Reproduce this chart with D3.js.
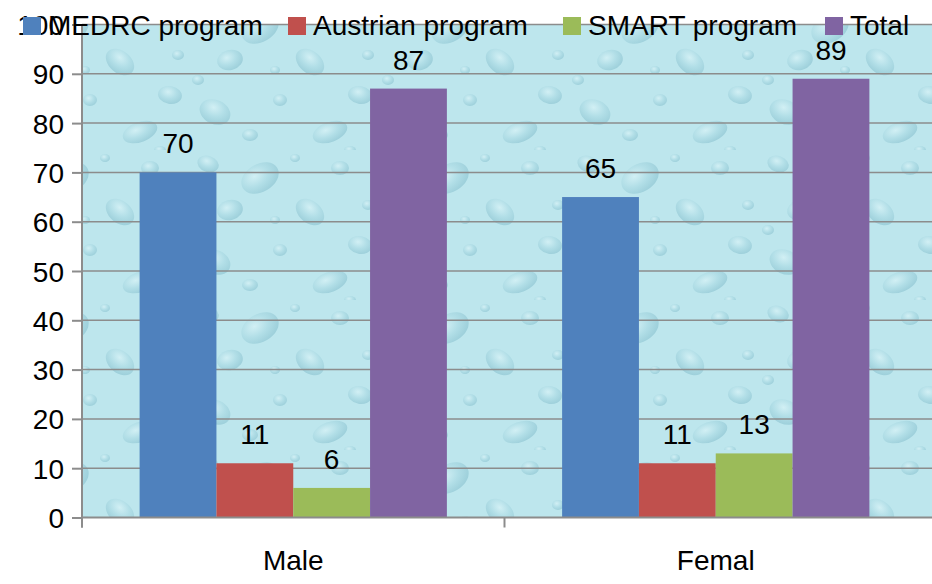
<html>
  <head>
    <meta charset="utf-8" />
    <script src="https://cdnjs.cloudflare.com/ajax/libs/d3/7.6.1/d3.min.js"></script>
    <style>
      body { margin: 0; background: #fff; }
      svg { display: block; font-family: "Liberation Sans", Arial, sans-serif; }
    </style>
  </head>
  <body>
    <svg width="932" height="584"></svg>
  </body>
  <script>
    const categories = ["Male", "Femal"];
    const series = ["MEDRC program", "Austrian program", "SMART program", "Total"];
    const colors = ["#4f81bd", "#c0504d", "#9bbb59", "#8064a2"];
    const medrc = [70, 65];
    const austrian = [11, 11];
    const smart = [6, 13];
    const total = [87, 89];
    const yTicks = [0, 10, 20, 30, 40, 50, 60, 70, 80, 90, 100];

    const values = [medrc, austrian, smart, total];
    const rows = [];
    categories.forEach((c, i) => {
      series.forEach((s, j) => rows.push({ cat: c, ser: s, val: values[j][i], col: colors[j] }));
    });

    const svg = d3.select("svg");
    const plotL = 82, plotR = 927, plotT = 24.5, plotB = 517.5;

    const x0 = d3.scaleBand().domain(categories).range([plotL, plotR]);
    const x1 = d3.scaleBand().domain(series).range([0, x0.bandwidth()]).paddingOuter(0.75);
    const y = d3.scaleLinear().domain([0, 100]).range([plotB, plotT]);

    // water-drop texture for the plot area
    const defs = svg.append("defs");
    const grad = defs.append("radialGradient").attr("id", "drop")
      .attr("cx", "40%").attr("cy", "35%").attr("r", "65%");
    grad.append("stop").attr("offset", "0%").attr("stop-color", "#e2f7fa");
    grad.append("stop").attr("offset", "55%").attr("stop-color", "#a8d8e2");
    grad.append("stop").attr("offset", "100%").attr("stop-color", "#86bfcd");
    const pat = defs.append("pattern").attr("id", "water")
      .attr("patternUnits", "userSpaceOnUse").attr("width", 190).attr("height", 150);
    pat.append("rect").attr("width", 190).attr("height", 150).attr("fill", "#bde6ed");
    [[18, 14, 11, 8, 20], [70, 28, 20, 14, -30], [150, 18, 9, 7, 0], [120, 62, 16, 11, 40],
     [40, 60, 13, 10, -15], [170, 95, 12, 9, 10], [90, 100, 7, 6, 0], [25, 112, 16, 12, 25],
     [60, 135, 8, 6, 0], [140, 132, 18, 10, -20], [105, 8, 5, 4, 0], [178, 55, 6, 5, 0],
     [8, 80, 6, 5, 0], [85, 70, 5, 4, 0], [160, 150, 6, 4, 0]]
      .forEach(([cx, cy, rx, ry, a]) => {
        pat.append("ellipse").attr("cx", cx).attr("cy", cy).attr("rx", rx).attr("ry", ry)
          .attr("transform", `rotate(${a},${cx},${cy})`)
          .attr("fill", "url(#drop)").attr("opacity", 0.55);
      });

    svg.append("rect")
      .attr("x", plotL).attr("y", plotT)
      .attr("width", 932 - plotL).attr("height", plotB - plotT)
      .attr("fill", "url(#water)");

    // gridlines
    svg.append("g")
      .selectAll("line")
      .data(yTicks.slice(1))
      .enter()
      .append("line")
      .attr("x1", plotL).attr("x2", 932)
      .attr("y1", (d) => y(d)).attr("y2", (d) => y(d))
      .attr("stroke", "#8c8c8c").attr("stroke-width", 1.5);

    // bars
    svg.append("g")
      .selectAll("rect")
      .data(rows)
      .enter()
      .append("rect")
      .attr("x", (d) => x0(d.cat) + x1(d.ser))
      .attr("y", (d) => y(d.val))
      .attr("width", x1.bandwidth())
      .attr("height", (d) => y(0) - y(d.val))
      .attr("fill", (d) => d.col);

    // data labels
    svg.append("g")
      .selectAll("text")
      .data(rows)
      .enter()
      .append("text")
      .attr("x", (d) => x0(d.cat) + x1(d.ser) + x1.bandwidth() / 2)
      .attr("y", (d) => y(d.val) - 19)
      .attr("text-anchor", "middle")
      .attr("font-size", 28)
      .text((d) => d.val);

    // y axis
    const yAxis = d3.axisLeft(y).tickValues(yTicks).tickSize(10).tickPadding(8);
    const gy = svg.append("g").attr("transform", `translate(${plotL},0)`).call(yAxis);
    gy.select(".domain").attr("stroke", "#8c8c8c").attr("stroke-width", 2).attr("d", `M0,${plotT}V${plotB + 10}`);
    gy.selectAll(".tick line").attr("stroke", "#8c8c8c").attr("stroke-width", 2);
    gy.selectAll("text").attr("font-size", 28).attr("font-family", "Liberation Sans").attr("fill", "#000").attr("dy", "0.36em");

    // x axis
    const gx = svg.append("g").attr("transform", `translate(0,${plotB})`);
    gx.append("line").attr("x1", plotL).attr("x2", 932).attr("stroke", "#8c8c8c").attr("stroke-width", 2);
    gx.selectAll("line.tk")
      .data(categories.map((c) => x0(c)))
      .enter()
      .append("line")
      .attr("class", "tk")
      .attr("x1", (d) => d).attr("x2", (d) => d)
      .attr("y1", 0).attr("y2", 10)
      .attr("stroke", "#8c8c8c").attr("stroke-width", 2);
    gx.selectAll("text")
      .data(categories)
      .enter()
      .append("text")
      .attr("x", (d) => x0(d) + x0.bandwidth() / 2)
      .attr("y", 52)
      .attr("text-anchor", "middle")
      .attr("font-size", 28)
      .text((d) => d);

    // legend
    const legendX = [23, 288, 563, 825];
    const lg = svg.append("g")
      .selectAll("g")
      .data(series)
      .enter()
      .append("g")
      .attr("transform", (d, i) => `translate(${legendX[i]},0)`);
    lg.append("rect").attr("y", 17).attr("width", 18).attr("height", 18).attr("fill", (d, i) => colors[i]);
    lg.append("text").attr("x", 25).attr("y", 35).attr("font-size", 28).text((d) => d);
  </script>
</html>
